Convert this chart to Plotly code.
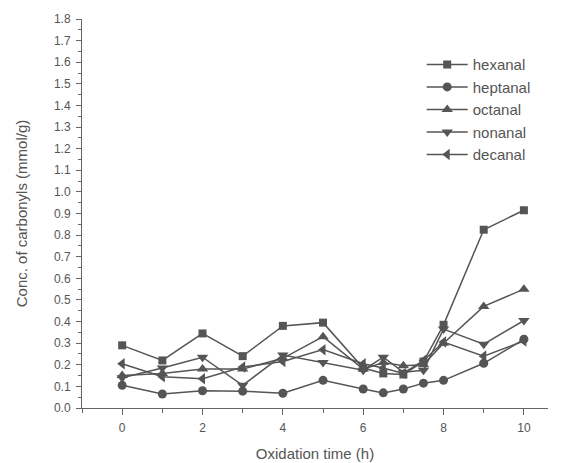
import plotly.graph_objects as go

time_h = [0, 1, 2, 3, 4, 5, 6, 6.5, 7, 7.5, 8, 9, 10]
hexanal = [0.29, 0.22, 0.345, 0.24, 0.38, 0.395, 0.185, 0.16, 0.155, 0.215, 0.385, 0.825, 0.915]
heptanal = [0.105, 0.065, 0.08, 0.078, 0.068, 0.128, 0.088, 0.07, 0.088, 0.115, 0.128, 0.207, 0.318]
octanal = [0.15, 0.16, 0.18, 0.18, 0.23, 0.33, 0.18, 0.21, 0.195, 0.2, 0.30, 0.47, 0.55]
nonanal = [0.14, 0.185, 0.235, 0.105, 0.245, 0.21, 0.175, 0.235, 0.165, 0.175, 0.365, 0.295, 0.405]
decanal = [0.205, 0.145, 0.135, 0.19, 0.215, 0.27, 0.205, 0.185, 0.16, 0.22, 0.305, 0.24, 0.31]

series = [
    ("hexanal", hexanal, "square", 8),
    ("heptanal", heptanal, "circle", 9),
    ("octanal", octanal, "triangle-up", 10),
    ("nonanal", nonanal, "triangle-down", 10),
    ("decanal", decanal, "triangle-left", 10),
]

col = "#555555"
fig = go.Figure()
for name, vals, sym, sz in series:
    fig.add_trace(go.Scatter(
        x=time_h, y=vals, name=name, mode="lines+markers",
        line=dict(color=col, width=1.5),
        marker=dict(symbol=sym, size=sz, color=col),
    ))

font = "Liberation Sans, Arial, sans-serif"
fig.update_layout(
    width=564, height=463,
    margin=dict(l=82, r=16, t=19, b=55),
    paper_bgcolor="white", plot_bgcolor="white",
    font=dict(family=font, color="#555555"),
    showlegend=True,
    legend=dict(x=0.729, y=0.925, xanchor="left", yanchor="top",
                xref="paper", yref="paper",
                font=dict(size=15, color="#555555"), itemwidth=41,
                bgcolor="rgba(0,0,0,0)", tracegroupgap=0),
    xaxis=dict(range=[-1, 10.6], showline=True, linecolor="#666666", linewidth=1,
               ticks="outside", ticklen=6, tickcolor="#666666", tick0=0, dtick=2,
               tickfont=dict(size=12), showgrid=False, zeroline=False,
               ticklabelstandoff=3, automargin=False,
               minor=dict(ticks="outside", ticklen=4, tickcolor="#666666", dtick=1, tick0=0),
               title=dict(text="Oxidation time (h)", font=dict(size=15), standoff=14)),
    yaxis=dict(range=[0, 1.8], showline=True, linecolor="#666666", linewidth=1,
               ticks="outside", ticklen=5, tickcolor="#666666", dtick=0.1, tick0=0,
               tickformat=".1f", tickfont=dict(size=12), showgrid=False, zeroline=False,
               ticklabelstandoff=3, automargin=False,
               minor=dict(ticks="outside", ticklen=3, tickcolor="#666666", dtick=0.05),
               title=dict(text="Conc. of carbonyls (mmol/g)", font=dict(size=15), standoff=22)),
)
fig.write_html("out.html")
